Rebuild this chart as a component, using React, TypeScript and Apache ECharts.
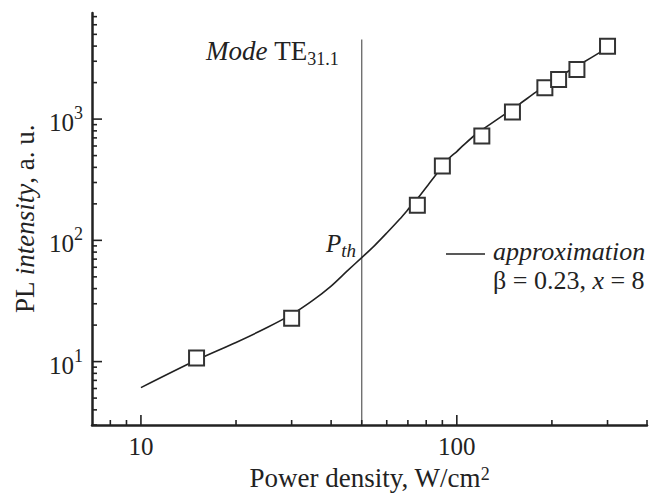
import React, { useEffect, useRef } from "react";
import * as echarts from "echarts";

const FONT = '"Liberation Serif", "Times New Roman", Times, serif';
const GFAMILY = "Liberation Serif";
const INK = "#222";

// Measured data (squares)
const powerDensity = [15, 30, 75, 90, 120, 150, 190, 210, 240, 300];
const plIntensity = [10.7, 22.8, 195, 410, 725, 1143, 1811, 2125, 2565, 3990];

// Approximation curve
const approxX = [10, 15, 20, 25, 30, 35, 40, 45, 50, 55, 60, 66, 71, 76, 81, 86, 91, 95, 100, 105, 115, 127, 142, 158, 178, 201, 228, 251, 283, 300];
const approxY = [6.1, 10.3, 14.4, 19, 24.5, 32, 42, 56, 72, 91, 115, 150, 187, 230, 285, 350, 420, 481, 540, 610, 750, 900, 1100, 1330, 1670, 2060, 2530, 2930, 3530, 3850];

const thresholdX = 50;
const thresholdTop = 4530;

const X_MIN = 7;
const X_MAX = 400;
const Y_MIN = 3;
const Y_MAX = 7500;
const xMajorTicks = [10, 100];
const xMinorTicks = [8, 9, 20, 30, 40, 50, 60, 70, 80, 90, 200, 300, 400];
const yMajorTicks = [10, 100, 1000];
const yMinorTicks = [3, 4, 5, 6, 7, 8, 9, 20, 30, 40, 50, 60, 70, 80, 90, 200, 300, 400, 500, 600, 700, 800, 900, 2000, 3000, 4000, 5000, 6000, 7000];

const MAJOR_LEN = 10;
const MINOR_LEN = 5;

function isPow10(v: number) {
  const l = Math.log10(v);
  return Math.abs(l - Math.round(l)) < 1e-6;
}

let measureCtx: CanvasRenderingContext2D | null = null;
function textWidth(text: string, size: number, italic: boolean) {
  if (!measureCtx) measureCtx = document.createElement("canvas").getContext("2d");
  if (!measureCtx) return text.length * size * 0.5;
  measureCtx.font = `${italic ? "italic " : ""}${size}px "${GFAMILY}"`;
  return measureCtx.measureText(text).width;
}

type Frag = { t: string; size: number; italic?: boolean; baseline: number };

// Lay out a run of text fragments left to right, starting at x, each on its own baseline.
function textRun(x: number, frags: Frag[]) {
  const els: any[] = [];
  let cx = x;
  for (const fr of frags) {
    const style: any = {
      text: fr.t,
      fontFamily: GFAMILY,
      fontSize: fr.size,
      fill: INK,
    };
    if (fr.italic) style.fontStyle = "italic";
    els.push({
      type: "text",
      x: cx,
      y: fr.baseline - 0.8375 * fr.size,
      style,
    });
    cx += textWidth(fr.t, fr.size, !!fr.italic);
  }
  return els;
}

function tickSeries(dir: "x" | "y", data: number[][]) {
  return {
    type: "custom",
    silent: true,
    clip: false,
    z: 5,
    encode: { x: 0, y: 1 },
    data,
    renderItem: (_params: any, api: any) => {
      const p = api.coord([api.value(0), api.value(1)]);
      const len = api.value(2);
      const shape =
        dir === "x"
          ? { x1: p[0], y1: p[1], x2: p[0], y2: p[1] - len }
          : { x1: p[0], y1: p[1], x2: p[0] + len, y2: p[1] };
      return { type: "line", shape, style: { stroke: INK, lineWidth: 1.6 } };
    },
  };
}

export default function App() {
  const ref = useRef<HTMLDivElement>(null);

  useEffect(() => {
    document.body.style.margin = "0";
    document.body.style.overflow = "hidden";
    if (!ref.current) return;
    const chart = echarts.init(ref.current, undefined, { renderer: "svg" });

    const xTickData = [
      ...xMajorTicks.map((v) => [v, Y_MIN, MAJOR_LEN]),
      ...xMinorTicks.map((v) => [v, Y_MIN, MINOR_LEN]),
    ];
    const yTickData = [
      ...yMajorTicks.map((v) => [X_MIN, v, MAJOR_LEN]),
      ...yMinorTicks.map((v) => [X_MIN, v, MINOR_LEN]),
    ];

    const graphics: any[] = [
      ...textRun(206, [
        { t: "Mode ", size: 27, italic: true, baseline: 60 },
        { t: "TE", size: 27, baseline: 60 },
        { t: "31.1", size: 18, baseline: 65.5 },
      ]),
      ...textRun(326, [
        { t: "P", size: 25, italic: true, baseline: 251.5 },
        { t: "th", size: 19, italic: true, baseline: 257 },
      ]),
      {
        type: "line",
        shape: { x1: 446, y1: 254, x2: 485, y2: 254 },
        style: { stroke: INK, lineWidth: 1.6 },
      },
      ...textRun(493, [{ t: "approximation", size: 26, italic: true, baseline: 260 }]),
      ...textRun(493, [
        { t: "β = 0.23, ", size: 26, baseline: 289 },
        { t: "x", size: 26, italic: true, baseline: 289 },
        { t: " = 8", size: 26, baseline: 289 },
      ]),
    ];

    const option: any = {
      animation: false,
      backgroundColor: "#ffffff",
      textStyle: { fontFamily: FONT },
      grid: { left: 92, right: 16, top: 13, bottom: 69, containLabel: false, outerBoundsMode: "none" },
      xAxis: {
        type: "log",
        logBase: 10,
        min: X_MIN,
        max: X_MAX,
        axisLine: { show: true, lineStyle: { color: INK, width: 2.5 } },
        axisTick: { show: false },
        minorTick: { show: false },
        splitLine: { show: false },
        axisLabel: {
          color: INK,
          fontFamily: FONT,
          fontSize: 25,
          margin: 9,
          formatter: (v: number) => (isPow10(v) ? String(Math.round(v)) : ""),
        },
        name: "{a|Power density, W/cm}{s|2}",
        nameLocation: "middle",
        nameGap: 40,
        nameTextStyle: {
          fontFamily: FONT,
          rich: {
            a: { fontFamily: FONT, fontSize: 27, color: INK, lineHeight: 26 },
            s: { fontFamily: FONT, fontSize: 18, color: INK, verticalAlign: "top" },
          },
        },
      },
      yAxis: {
        type: "log",
        logBase: 10,
        min: Y_MIN,
        max: Y_MAX,
        axisLine: { show: true, lineStyle: { color: INK, width: 2.5 } },
        axisTick: { show: false },
        minorTick: { show: false },
        splitLine: { show: false },
        axisLabel: {
          margin: 9,
          formatter: (v: number) =>
            isPow10(v) ? `{b|10}{s|${Math.round(Math.log10(v))}}` : "",
          rich: {
            b: { fontFamily: FONT, fontSize: 25, color: INK, lineHeight: 30, verticalAlign: "middle", padding: [7, 0, 0, 0] },
            s: { fontFamily: FONT, fontSize: 18, color: INK, lineHeight: 15, verticalAlign: "top" },
          },
        },
        name: "{a|PL }{i|intensity}{a|, a. u.}",
        nameLocation: "middle",
        nameGap: 52,
        nameTextStyle: {
          rich: {
            a: { fontFamily: FONT, fontSize: 27, color: INK },
            i: { fontFamily: FONT, fontSize: 27, color: INK, fontStyle: "italic" },
          },
        },
      },
      series: [
        {
          type: "line",
          data: [
            [thresholdX, Y_MIN],
            [thresholdX, thresholdTop],
          ],
          symbol: "none",
          lineStyle: { color: "#666", width: 1.3 },
          silent: true,
          z: 2,
        },
        {
          type: "line",
          data: approxX.map((x, i) => [x, approxY[i]]),
          symbol: "none",
          smooth: 0.3,
          lineStyle: { color: INK, width: 1.6 },
          silent: true,
          z: 3,
        },
        {
          type: "scatter",
          data: powerDensity.map((x, i) => [x, plIntensity[i]]),
          symbol: "rect",
          symbolSize: 15,
          itemStyle: { color: "#ffffff", borderColor: "#333", borderWidth: 2, opacity: 1 },
          z: 4,
        },
        tickSeries("x", xTickData),
        tickSeries("y", yTickData),
      ],
      graphic: graphics,
    };

    chart.setOption(option);
    return () => chart.dispose();
  }, []);

  return <div ref={ref} style={{ width: 663, height: 494 }} />;
}
